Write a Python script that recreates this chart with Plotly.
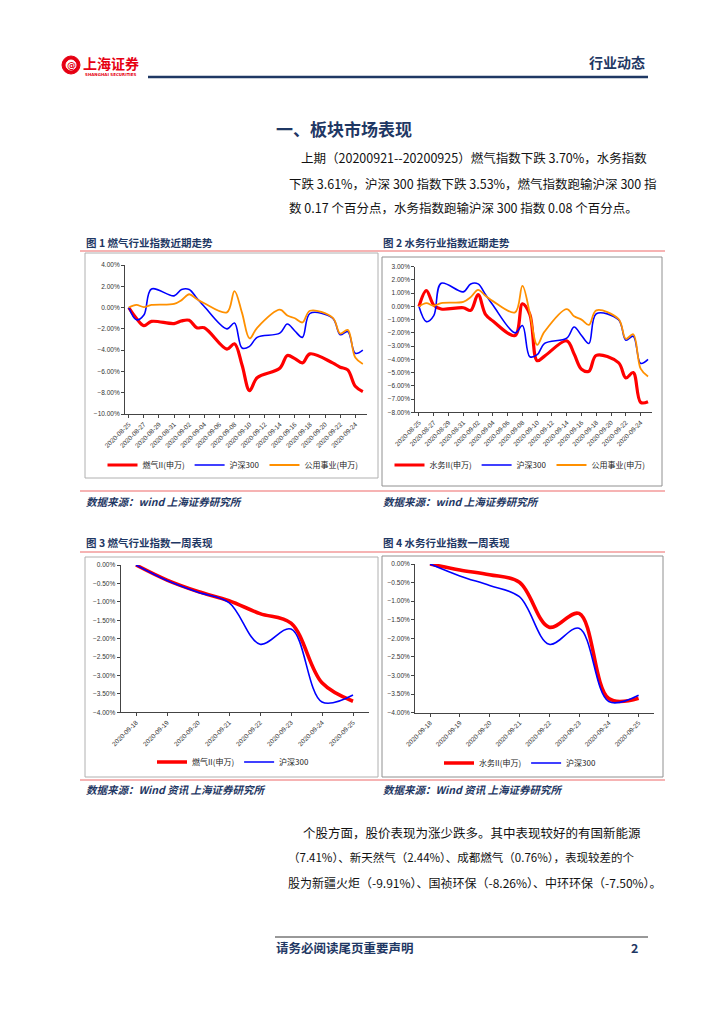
import plotly.graph_objects as go

# page offset: the browser body adds an 8px margin, so the figure is drawn 8px in
OFF = 8
W, H = 724 - OFF, 1024 - OFF
def X(px): return (px - OFF) / W
def Y(py): return 1 - (py - OFF) / H

# ---------------- data ----------------
dates_month = ["2020-08-25","2020-08-26","2020-08-27","2020-08-28","2020-08-31","2020-09-01",
               "2020-09-02","2020-09-03","2020-09-04","2020-09-07","2020-09-08","2020-09-09",
               "2020-09-10","2020-09-11","2020-09-14","2020-09-15","2020-09-16","2020-09-17",
               "2020-09-18","2020-09-21","2020-09-22","2020-09-23","2020-09-24","2020-09-25"]
gas_month   = [0, -1.0, -1.7, -1.3, -1.5, -1.25, -1.2, -1.9, -1.9, -3.9, -3.4, -5.4,
               -7.8, -6.6, -5.7, -4.5, -4.8, -5.2, -4.35, -5.2, -5.6, -5.85, -7.4, -7.9]
hs300_month = [0, -1.15, -0.7, 1.75, 1.1, 1.7, 1.7, 0.9, 0.1, -2.0, -1.45, -3.8,
               -3.65, -2.8, -2.4, -1.55, -2.2, -2.8, -0.55, -1.0, -2.55, -2.25, -4.3, -4.0]
util_month  = [0, 0.25, 0.05, 0.25, 0.35, 0.7, 1.25, 0.8, 0.4, -0.45, 1.55, -0.5,
               -2.9, -1.9, -0.2, -0.75, -1.0, -1.4, -0.3, -0.95, -2.45, -2.1, -4.7, -5.3]
water_month = [0, 1.2, 0.1, -0.2, -0.1, -0.3, 0.9, -0.6, -1.1, -2.2, 0.2, -0.6,
               -4.1, -3.75, -2.6, -3.6, -4.75, -4.9, -3.7, -4.25, -5.4, -5.0, -7.25, -7.2]

dates_week = ["2020-09-18","2020-09-19","2020-09-20","2020-09-21",
              "2020-09-22","2020-09-23","2020-09-24","2020-09-25"]
gas_week     = [0, -0.41, -0.72, -0.97, -1.32, -1.58, -3.20, -3.70]
hs300_week_a = [0, -0.42, -0.74, -1.02, -2.15, -1.74, -3.72, -3.53]
water_week   = [0, -0.16, -0.29, -0.49, -1.70, -1.33, -3.62, -3.61]
hs300_week_b = [0, -0.32, -0.58, -0.88, -2.16, -1.73, -3.70, -3.53]

RED, BLUE, ORANGE = "#ff0000", "#0000ff", "#ff9000"
NAVY = "#1f3864"
CJK = "Noto Sans CJK SC"

fig = go.Figure()

def add(xa, ya, x, y, name, color, width, legend):
    fig.add_trace(go.Scatter(x=x, y=y, mode="lines", name=name,
                             line=dict(color=color, width=width, shape="spline", smoothing=1.0),
                             xaxis=xa, yaxis=ya, legend=legend))

add("x", "y", dates_month, gas_month, "燃气II(申万)", RED, 3.2, "legend")
add("x", "y", dates_month, hs300_month, "沪深300", BLUE, 1.6, "legend")
add("x", "y", dates_month, util_month, "公用事业(申万)", ORANGE, 1.8, "legend")

add("x2", "y2", dates_month, water_month, "水务II(申万)", RED, 3.2, "legend2")
add("x2", "y2", dates_month, hs300_month, "沪深300", BLUE, 1.6, "legend2")
add("x2", "y2", dates_month, util_month, "公用事业(申万)", ORANGE, 1.8, "legend2")

add("x3", "y3", dates_week, gas_week, "燃气II(申万)", RED, 3.6, "legend3")
add("x3", "y3", dates_week, hs300_week_a, "沪深300", BLUE, 1.6, "legend3")

add("x4", "y4", dates_week, water_week, "水务II(申万)", RED, 3.6, "legend4")
add("x4", "y4", dates_week, hs300_week_b, "沪深300", BLUE, 1.6, "legend4")

tickfont = dict(family="Liberation Sans", size=6.5, color="#333")
axcommon = dict(showgrid=False, zeroline=False, showline=True, linecolor="#444", linewidth=1,
                ticks="outside", ticklen=3, tickcolor="#444", tickfont=tickfont, fixedrange=True,
                automargin=False)

DAY = 86400000
fig.update_layout(
    template="none",
    xaxis=dict(axcommon, type="date", domain=[X(125), X(366.6)], anchor="y",
               range=["2020-08-24 12:00", "2020-09-25 12:00"], tickmode="linear",
               tick0="2020-08-25", dtick=2 * DAY, tickformat="%Y-%m-%d", tickangle=-45),
    yaxis=dict(axcommon, domain=[Y(414), Y(265)], anchor="x", range=[-10, 4], dtick=2,
               tickformat=".2f", ticksuffix="%"),
    xaxis2=dict(axcommon, type="date", domain=[X(415.3), X(651.7)], anchor="y2",
                range=["2020-08-24 12:00", "2020-09-25 12:00"], tickmode="linear",
                tick0="2020-08-25", dtick=2 * DAY, tickformat="%Y-%m-%d", tickangle=-45),
    yaxis2=dict(axcommon, domain=[Y(412.3), Y(266.7)], anchor="x2", range=[-8, 3], dtick=1,
                tickformat=".2f", ticksuffix="%"),
    xaxis3=dict(axcommon, type="category", domain=[X(120.5), X(368.5)], anchor="y3",
                range=[-0.5, 7.5], tickangle=-45),
    yaxis3=dict(axcommon, domain=[Y(712.3), Y(565)], anchor="x3", range=[-4, 0], dtick=0.5,
                tickformat=".2f", ticksuffix="%"),
    xaxis4=dict(axcommon, type="category", domain=[X(415.1), X(653.5)], anchor="y4",
                range=[-0.5, 7.5], tickangle=-45),
    yaxis4=dict(axcommon, domain=[Y(712.7), Y(564)], anchor="x4", range=[-4, 0], dtick=0.5,
                tickformat=".2f", ticksuffix="%"),
)

legfont = dict(family=CJK, size=8, color="#222")
def leg(xc, yc):
    return dict(orientation="h", x=X(xc), y=Y(yc), xanchor="center", yanchor="middle",
                font=legfont, bgcolor="rgba(0,0,0,0)", itemwidth=30, tracegroupgap=0,
                borderwidth=0)

fig.update_layout(
    legend=leg(233, 465), legend2=leg(520, 465), legend3=leg(233, 762), legend4=leg(520, 763),
    width=W, height=H, margin=dict(l=0, r=0, t=0, b=0, pad=0), autosize=False,
    paper_bgcolor="white", plot_bgcolor="white", showlegend=True,
)

shapes = []
def rect(x0, y0, x1, y1, color="#a0a0a0", w=1):
    shapes.append(dict(type="rect", xref="paper", yref="paper", x0=X(x0), x1=X(x1),
                       y0=Y(y1), y1=Y(y0), line=dict(color=color, width=w), layer="below"))
def hline(x0, x1, y, color, w):
    shapes.append(dict(type="line", xref="paper", yref="paper", x0=X(x0), x1=X(x1),
                       y0=Y(y), y1=Y(y), line=dict(color=color, width=w)))

# chart frames
rect(85, 253, 378, 478, "#b0b0b0")
rect(382, 257, 662, 486, "#909090")
rect(85, 557, 378, 777, "#b0b0b0")
rect(382, 556, 663, 777, "#909090")
# red separator lines
for yy in (251, 491, 552, 780):
    hline(80, 665, yy, "#f39a9a", 1.5)
# header / footer lines
hline(148, 648, 77, NAVY, 2.5)
hline(275, 648, 937, "#333", 1)
# logo circle
shapes.append(dict(type="circle", xref="paper", yref="paper", x0=X(62), x1=X(80), y0=Y(74), y1=Y(56),
                   fillcolor="#e60012", line=dict(color="#e60012", width=1)))
shapes.append(dict(type="circle", xref="paper", yref="paper", x0=X(66), x1=X(76), y0=Y(70), y1=Y(60),
                   fillcolor="white", line=dict(color="white", width=1)))
fig.update_layout(shapes=shapes)

ann = []
def text(x, y, s, size=12.5, color="#111", bold=False, italic=False, anchor="left", family=CJK):
    t = s
    if bold:
        t = "<b>" + t + "</b>"
    if italic:
        t = "<i>" + t + "</i>"
    ann.append(dict(x=X(x), y=Y(y), xref="paper", yref="paper", text=t, showarrow=False,
                    xanchor=anchor, yanchor="middle", borderpad=0,
                    font=dict(family=family, size=size, color=color)))

# header
text(71, 65, "<b>@</b>", 9, "#e60012", anchor="center", family="DejaVu Sans")
text(82, 63, "上海证券", 14, "#e60012", bold=True)
text(84, 74, "SHANGHAI SECURITIES", 4, "#e60012", bold=True, family="DejaVu Sans")
text(646, 62, "行业动态", 14, NAVY, bold=True, anchor="right")

# title and paragraph 1
text(275, 128, "一、板块市场表现", 17, NAVY, bold=True)
text(300, 158, "上期（20200921--20200925）燃气指数下跌 3.70%，水务指数", 12.5)
text(288, 183, "下跌 3.61%，沪深 300 指数下跌 3.53%，燃气指数跑输沪深 300 指", 12.5)
text(288, 208, "数 0.17 个百分点，水务指数跑输沪深 300 指数 0.08 个百分点。", 12.5)

# captions
text(85, 242, "图 1 燃气行业指数近期走势", 10.5, NAVY, bold=True)
text(382, 242, "图 2 水务行业指数近期走势", 10.5, NAVY, bold=True)
text(85, 501, "数据来源：wind 上海证券研究所", 10.5, NAVY, bold=True, italic=True)
text(382, 501, "数据来源：wind 上海证券研究所", 10.5, NAVY, bold=True, italic=True)
text(85, 542, "图 3 燃气行业指数一周表现", 10.5, NAVY, bold=True)
text(382, 542, "图 4 水务行业指数一周表现", 10.5, NAVY, bold=True)
text(85, 789, "数据来源：Wind 资讯 上海证券研究所", 10.5, NAVY, bold=True, italic=True)
text(382, 789, "数据来源：Wind 资讯 上海证券研究所", 10.5, NAVY, bold=True, italic=True)

# paragraph 2
text(302, 832, "个股方面，股价表现为涨少跌多。其中表现较好的有国新能源", 12.5)
text(287, 857, "（7.41%）、新天然气（2.44%）、成都燃气（0.76%），表现较差的个", 11.5)
text(287, 882, "股为新疆火炬（-9.91%）、国祯环保（-8.26%）、中环环保（-7.50%）。", 12.0)

# footer
text(275, 947, "请务必阅读尾页重要声明", 12.5, NAVY, bold=True)
text(634, 947, "2", 12.5, NAVY, bold=True, anchor="center")

fig.update_layout(annotations=ann)
fig.write_html("out.html")
